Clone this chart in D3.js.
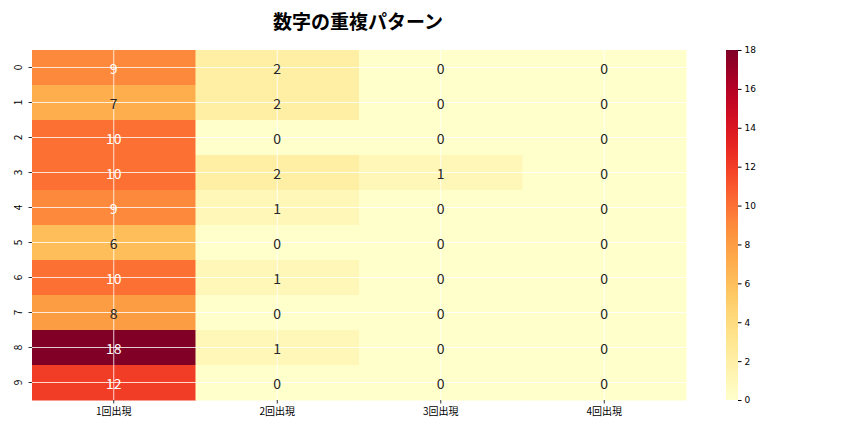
<!DOCTYPE html>
<html><head><meta charset="utf-8">
<script src="https://cdn.jsdelivr.net/npm/d3@7"></script>
<style>body{margin:0;background:#fff;font-family:"Noto Sans CJK JP","Noto Sans",sans-serif;}</style>
</head><body><div id="chart"></div>
<script>
const columns = ["1回出現", "2回出現", "3回出現", "4回出現"];
const rows = ["0", "1", "2", "3", "4", "5", "6", "7", "8", "9"];
const values = [
  [9, 2, 0, 0], [7, 2, 0, 0], [10, 0, 0, 0], [10, 2, 1, 0], [9, 1, 0, 0],
  [6, 0, 0, 0], [10, 1, 0, 0], [8, 0, 0, 0], [18, 1, 0, 0], [12, 0, 0, 0]
];
const cbTicks = [0, 2, 4, 6, 8, 10, 12, 14, 16, 18];

const W = 864, H = 432;
const margin = {top: 50, left: 32, right: 178, bottom: 32};
const width = W - margin.left - margin.right, height = H - margin.top - margin.bottom;

const svg = d3.select("#chart").append("svg").attr("width", W).attr("height", H);
const g = svg.append("g").attr("transform", `translate(${margin.left},${margin.top})`);

const x = d3.scaleBand().domain(columns).range([0, width]);
const y = d3.scaleBand().domain(rows).range([0, height]);
const color = d3.scaleSequential(d3.interpolateYlOrRd).domain([0, 18]);

const cells = [];
values.forEach((r, i) => r.forEach((v, j) => cells.push({row: rows[i], col: columns[j], v})));

g.selectAll("rect").data(cells).enter().append("rect")
  .attr("x", d => x(d.col)).attr("y", d => y(d.row))
  .attr("width", x.bandwidth() + 0.5).attr("height", y.bandwidth() + 0.5)
  .attr("fill", d => color(d.v));

// grid lines through cell centers
g.selectAll(".vg").data(columns).enter().append("line")
  .attr("x1", d => x(d) + x.bandwidth() / 2).attr("x2", d => x(d) + x.bandwidth() / 2)
  .attr("y1", 0).attr("y2", height).attr("stroke", "#fff").attr("stroke-width", 0.8);
g.selectAll(".hg").data(rows).enter().append("line")
  .attr("y1", d => y(d) + y.bandwidth() / 2).attr("y2", d => y(d) + y.bandwidth() / 2)
  .attr("x1", 0).attr("x2", width).attr("stroke", "#fff").attr("stroke-width", 0.8);

g.selectAll(".lbl").data(cells).enter().append("text")
  .attr("x", d => x(d.col) + x.bandwidth() / 2).attr("y", d => y(d.row) + y.bandwidth() / 2)
  .attr("text-anchor", "middle").attr("dominant-baseline", "central")
  .attr("font-size", 14)
  .attr("fill", d => d.v >= 9 ? "#fff" : "#262626")
  .text(d => d.v);

// x axis labels
g.selectAll(".xl").data(columns).enter().append("text")
  .attr("x", d => x(d) + x.bandwidth() / 2).attr("y", height + 15)
  .attr("text-anchor", "middle").attr("font-size", 10).text(d => d);
g.selectAll(".xt").data(columns).enter().append("line")
  .attr("x1", d => x(d) + x.bandwidth() / 2).attr("x2", d => x(d) + x.bandwidth() / 2)
  .attr("y1", height).attr("y2", height + 3.5).attr("stroke", "#333");

// y axis labels rotated
g.selectAll(".yl").data(rows).enter().append("text")
  .attr("transform", d => `translate(-10,${y(d) + y.bandwidth() / 2}) rotate(-90)`)
  .attr("text-anchor", "middle").attr("font-size", 10).text(d => d);
g.selectAll(".yt").data(rows).enter().append("line")
  .attr("y1", d => y(d) + y.bandwidth() / 2).attr("y2", d => y(d) + y.bandwidth() / 2)
  .attr("x1", -3.5).attr("x2", 0).attr("stroke", "#333");

// title
svg.append("text").attr("x", 358).attr("y", 29).attr("text-anchor", "middle")
  .attr("font-size", 19).attr("font-weight", "bold").text("数字の重複パターン");

// colorbar
const cbX = 726, cbW = 12;
const cy = d3.scaleLinear().domain([0, 18]).range([margin.top + height, margin.top]);
const defs = svg.append("defs");
const grad = defs.append("linearGradient").attr("id", "cb").attr("x1", 0).attr("y1", 1).attr("x2", 0).attr("y2", 0);
d3.range(0, 1.01, 0.05).forEach(t => grad.append("stop").attr("offset", t).attr("stop-color", color(t * 18)));
svg.append("rect").attr("x", cbX).attr("y", margin.top).attr("width", cbW).attr("height", height).attr("fill", "url(#cb)");
svg.append("g").attr("transform", `translate(${cbX + cbW},0)`)
  .call(d3.axisRight(cy).tickValues(cbTicks).tickSize(3.5))
  .call(a => a.select(".domain").remove())
  .call(a => a.selectAll("text").attr("font-size", 9).attr("font-family", "DejaVu Sans"));
</script></body></html>
